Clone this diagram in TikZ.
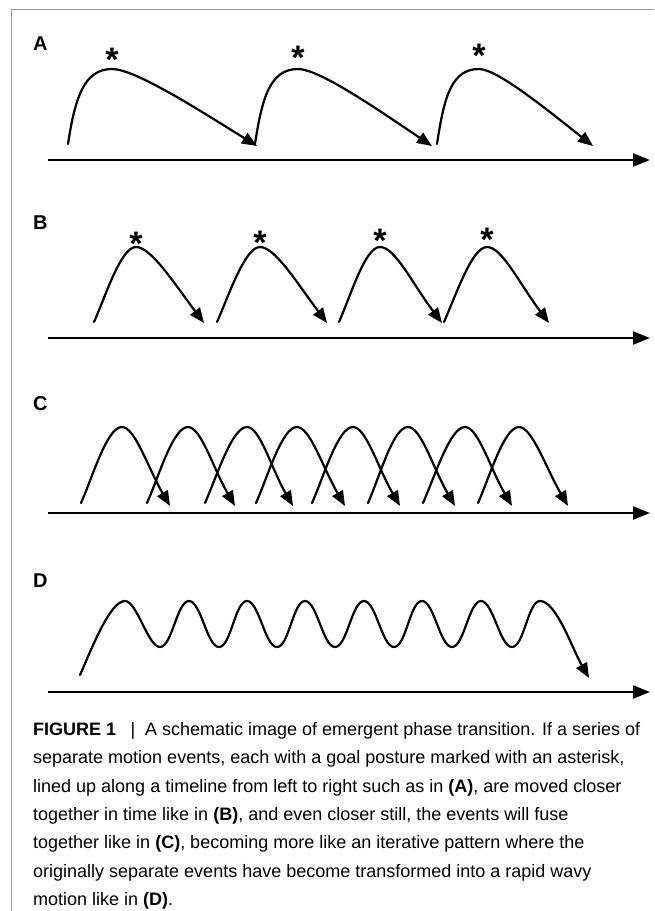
\documentclass[tikz,border=0pt]{standalone}
\usepackage{fontspec}
\setmainfont{Liberation Sans}
\usetikzlibrary{arrows.meta}
\tikzset{
  timeline/.style={line width=2.4pt, -{Triangle[length=17pt,width=13pt]}},
  motion/.style={line width=2.2pt, line cap=round, -{Triangle[length=15pt,width=12pt]}},
  panel/.style={font=\fontsize{20}{20}\selectfont\bfseries, anchor=base west, inner sep=0pt},
  goal/.style={font=\fontsize{34}{34}\selectfont\bfseries, anchor=base, inner sep=0pt},
  capt/.style={font=\fontsize{18}{18}\selectfont, anchor=base west, inner sep=0pt},
}
\begin{document}
\begin{tikzpicture}[x=1pt, y=-1pt]
  \useasboundingbox (0,0) rectangle (654,911);
  % frame
  \draw[gray!80, line width=1pt] (11.5,911) -- (11.5,9.5) -- (654,9.5);

  % panel A: separate events
  \node[panel] (labA) at (33,50) {A};
  \draw[timeline] (48,160) -- (650,160);
  \foreach \s/\p/\t/\a [count=\i] in {68/112/257/55, 255/298/432/53, 437/479/593/51} {
    \draw[motion] (\s,144) .. controls ({\s+7},98) and ({\p-28},69) .. (\p,69)
      .. controls ({\p+0.16*(\t-\p)},69) and ({\p+0.6*(\t-\p)},110) .. (\t,146);
    \node[goal] (astA\i) at (\p,{\a+16}) {*};
  }

  % panel B: closer in time
  \node[panel] (labB) at (33,229) {B};
  \draw[timeline] (48,338) -- (650,338);
  \foreach \s/\p/\t/\a [count=\i] in {94/136/204/239, 217/260/327/238, 339/380/442/236, 444/487/549/235} {
    \draw[motion] (\s,322) .. controls ({\s+12},295) and ({\p-15},247) .. (\p,247)
      .. controls ({\p+15},247) and ({\t-30},283) .. (\t,323);
    \node[goal] (astB\i) at (\p,{\a+16}) {*};
  }

  % panel C: fused events
  \node[panel] (labC) at (33,410) {C};
  \draw[timeline] (48,513) -- (650,513);
  \foreach \s/\p/\t in {81/122/170, 147/188/235, 205/247/293, 256/297/345, 312/353/400, 368/408/455, 423/465/512, 478/519/568}
    \draw[motion] (\s,503) .. controls ({\s+12},476) and ({\p-15},427) .. (\p,427)
      .. controls ({\p+13},427) and ({\t-22},468) .. (\t,506);

  % panel D: wavy motion
  \node[panel] (labD) at (33,587) {D};
  \draw[timeline] (48,692) -- (650,692);
  \draw[motion] (80,675) .. controls (92,648) and (110,601) .. (125,601)
    \foreach \pp/\tr/\pk in {125/160/189, 189/219/247, 247/277/305, 305/335/364, 364/394/422, 422/452/481, 481/512/540} {
      .. controls ({\pp+12},601) and ({\tr-12},647) .. (\tr,647)
      .. controls ({\tr+12},647) and ({\pk-12},601) .. (\pk,601)
    }
    .. controls (556,601) and (572,648) .. (589,678);

  % caption
  \node[capt] (cap1) at (33,735.5) {\textbf{FIGURE 1}\hspace{0.8em}|\hspace{0.55em}A schematic image of emergent phase transition. If a series of};
  \node[capt] (cap2) at (33,763.8) {separate motion events, each with a goal posture marked with an asterisk,};
  \node[capt] (cap3) at (33,792.1) {lined up along a timeline from left to right such as in \textbf{(A)}, are moved closer};
  \node[capt] (cap4) at (33,820.4) {together in time like in \textbf{(B)}, and even closer still, the events will fuse};
  \node[capt] (cap5) at (33,848.7) {together like in \textbf{(C)}, becoming more like an iterative pattern where the};
  \node[capt] (cap6) at (33,877.0) {originally separate events have become transformed into a rapid wavy};
  \node[capt] (cap7) at (33,905.3) {motion like in \textbf{(D)}.};
\end{tikzpicture}
\end{document}
